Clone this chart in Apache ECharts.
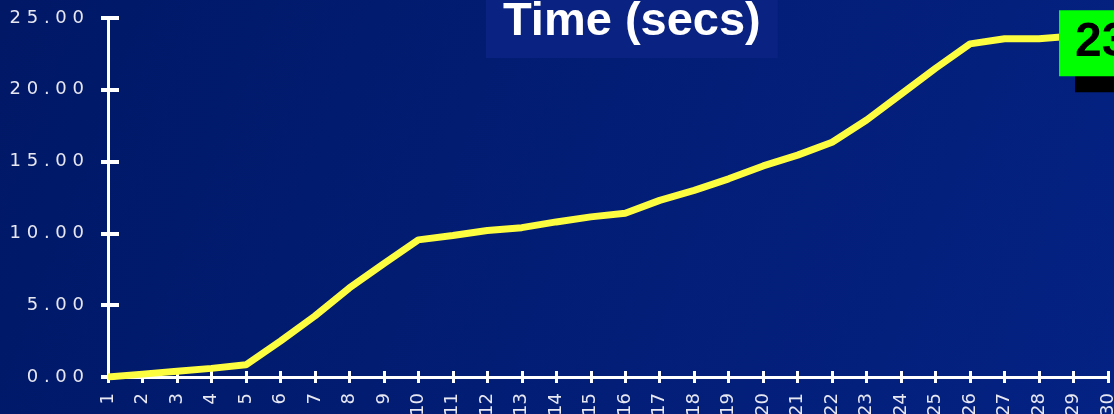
<!DOCTYPE html>
<html>
<head>
<meta charset="utf-8">
<script src="https://cdn.jsdelivr.net/npm/echarts@6/dist/echarts.min.js"></script>
<style>
html,body{margin:0;padding:0;background:#011a68;}
#chart{width:1114px;height:414px;}
</style>
</head>
<body>
<div id="chart"></div>
<script>
const categories = ['1','2','3','4','5','6','7','8','9','10','11','12','13','14','15','16','17','18','19','20','21','22','23','24','25','26','27','28','29','30'];
const timeSecs = [0.0,0.2,0.4,0.6,0.85,2.5,4.25,6.2,7.9,9.55,9.85,10.2,10.4,10.8,11.15,11.4,12.3,13.0,13.8,14.7,15.45,16.35,17.9,19.7,21.5,23.2,23.55,23.55,23.75,23.8];
const titleText = 'Time (secs)';
const yMin = 0, yMax = 25, yStep = 5;

const chart = echarts.init(document.getElementById('chart'));
const spaced = v => v.toFixed(2).split('').join(' ');
const lastIdx = timeSecs.length - 1;

chart.setOption({
  animation: false,
  backgroundColor: {
    type: 'linear', x: 0, y: 0, x2: 1, y2: 1,
    colorStops: [{offset: 0, color: '#001866'}, {offset: 1, color: '#042283'}]
  },
  title: {
    text: titleText,
    left: 486,
    top: -13,
    padding: [12, 17],
    backgroundColor: '#0a2382',
    textStyle: {color: '#ffffff', fontFamily: 'Liberation Sans, Arial, sans-serif', fontWeight: 'bold', fontSize: 47, lineHeight: 47}
  },
  grid: {left: 108, right: 6, top: 18, bottom: 37, containLabel: false, outerBoundsMode: 'none'},
  xAxis: [{
    type: 'category', data: categories, boundaryGap: false, position: 'bottom',
    axisLine: {show: true, lineStyle: {color: '#ffffff', width: 3}},
    axisTick: {show: true, interval: 0, inside: false, length: 6, lineStyle: {color: '#ffffff', width: 3}},
    axisLabel: {interval: 0, rotate: 90, margin: 16, color: '#e8e8f2', fontFamily: 'DejaVu Sans, sans-serif', fontSize: 18},
    splitLine: {show: false}
  }, {
    type: 'category', data: categories, boundaryGap: false, position: 'bottom',
    axisLine: {show: false},
    axisTick: {show: true, interval: 0, inside: true, length: 6, lineStyle: {color: '#ffffff', width: 3}},
    axisLabel: {show: false},
    splitLine: {show: false}
  }],
  yAxis: [{
    type: 'value', min: yMin, max: yMax, interval: yStep, position: 'left',
    axisLine: {show: true, lineStyle: {color: '#ffffff', width: 3}},
    axisTick: {show: true, inside: false, length: 7, lineStyle: {color: '#ffffff', width: 4}},
    axisLabel: {margin: 24, color: '#e8e8f2', fontFamily: 'DejaVu Sans, sans-serif', fontSize: 18, formatter: spaced},
    splitLine: {show: false}
  }, {
    type: 'value', min: yMin, max: yMax, interval: yStep, position: 'left',
    axisLine: {show: false},
    axisTick: {show: true, inside: true, length: 11, lineStyle: {color: '#ffffff', width: 4}},
    axisLabel: {show: false},
    splitLine: {show: false}
  }],
  series: [{
    type: 'line',
    data: timeSecs,
    xAxisIndex: 0, yAxisIndex: 0,
    showSymbol: false,
    lineStyle: {color: '#fcfc40', width: 7},
    markPoint: {
      symbol: 'circle', symbolSize: 0,
      data: [{coord: [lastIdx, timeSecs[lastIdx]], value: timeSecs[lastIdx]}],
      label: {
        show: true,
        position: 'inside',
        align: 'left',
        verticalAlign: 'top',
        offset: [-49, -25],
        formatter: p => p.value.toFixed(1),
        color: '#000000',
        fontFamily: 'Liberation Sans, Arial, sans-serif',
        fontWeight: 'bold',
        fontSize: 48,
        lineHeight: 48,
        backgroundColor: '#00ff00',
        padding: [9, 16, 9, 16],
        shadowColor: '#000000',
        shadowBlur: 0,
        shadowOffsetX: 16,
        shadowOffsetY: 16
      }
    }
  }]
});
</script>
</body>
</html>
